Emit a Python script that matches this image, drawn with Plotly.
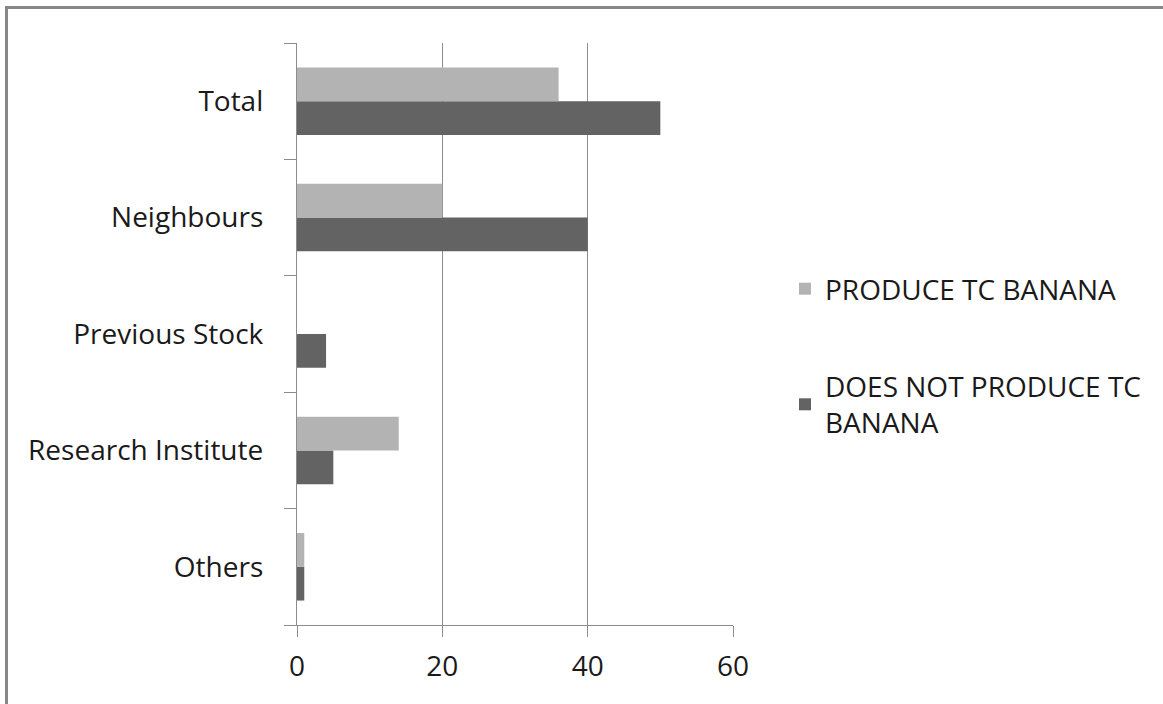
import plotly.graph_objects as go

# Source of planting material, by producer group
categories = ["Others", "Research Institute", "Previous Stock", "Neighbours", "Total"]
produce_tc = [1, 14, 0, 20, 36]
not_produce_tc = [1, 5, 4, 40, 50]
x_ticks = [0, 20, 40, 60]

W, H = 1163, 704
L, R, T, B = 297, 430, 43, 79
PW, PH = W - L - R, H - T - B


def px_x(p):
    return (p - L) / PW


def px_y(p):
    return (H - B - p) / PH


FONT = "Open Sans"
TXT = "#1a1a1a"
AX = "#8c8c8c"

fig = go.Figure()
fig.add_trace(go.Bar(
    y=categories, x=not_produce_tc, orientation="h",
    name="DOES NOT PRODUCE TC<br>BANANA",
    marker=dict(color="#636363", line=dict(width=0)),
    legendgroup="b", legendrank=2,
))
fig.add_trace(go.Bar(
    y=categories, x=produce_tc, orientation="h",
    name="PRODUCE TC BANANA",
    marker=dict(color="#b3b3b3", line=dict(width=0)),
    legendgroup="a", legendrank=1,
))

# outer frame (left and top edges)
frame = dict(type="line", xref="paper", yref="paper",
             line=dict(color="#878787", width=3), layer="above")
fig.add_shape(**frame, x0=px_x(6.5), x1=px_x(6.5), y0=px_y(H + 5), y1=px_y(7.5))
fig.add_shape(**frame, x0=px_x(5), x1=px_x(W + 5), y0=px_y(7.5), y1=px_y(7.5))

fig.update_layout(
    width=W, height=H,
    margin=dict(l=L, r=R, t=T, b=B),
    paper_bgcolor="white", plot_bgcolor="white",
    barmode="group", bargap=0.42, bargroupgap=0,
    font=dict(family=FONT, size=28, color=TXT),
    showlegend=True,
    legend=dict(
        x=px_x(785), y=px_y(264), xanchor="left", yanchor="top",
        font=dict(family=FONT, size=28, color=TXT),
        tracegroupgap=58, itemwidth=30,
        bgcolor="rgba(0,0,0,0)",
    ),
    xaxis=dict(
        range=[0, 60], tickvals=x_ticks, ticktext=[str(v) for v in x_ticks],
        showgrid=True, gridcolor=AX, gridwidth=1.3,
        showline=True, linecolor=AX, linewidth=1.3,
        ticks="outside", ticklen=11, tickcolor=AX, tickwidth=1.3,
        zeroline=False, ticklabelstandoff=5,
        tickfont=dict(family=FONT, size=28, color=TXT),
        fixedrange=True,
    ),
    yaxis=dict(
        type="category", categoryorder="array", categoryarray=categories,
        showline=True, linecolor=AX, linewidth=1.3,
        ticks="outside", ticklen=12, tickcolor=AX, tickwidth=1.3,
        tickson="boundaries", showgrid=False,
        ticklabelstandoff=27,
        tickfont=dict(family=FONT, size=28, color=TXT),
        fixedrange=True,
    ),
)

fig.write_html("out.html")
